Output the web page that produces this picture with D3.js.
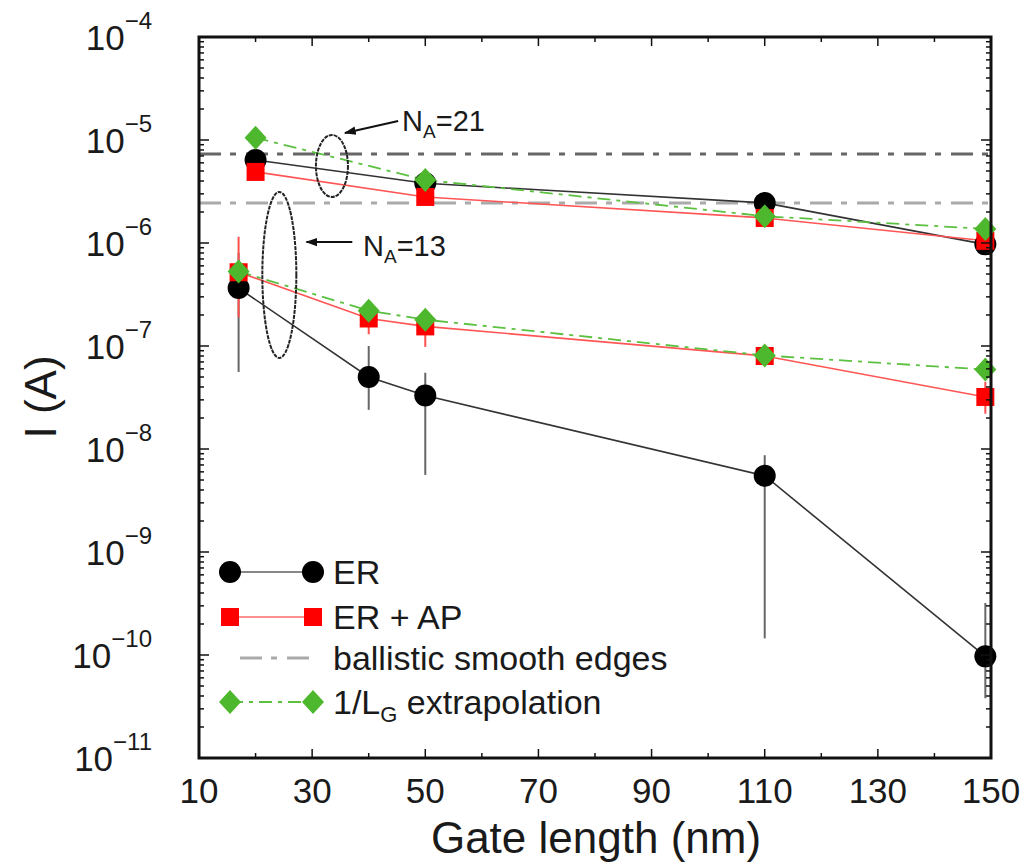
<!DOCTYPE html>
<html>
<head>
<meta charset="utf-8">
<script src="https://cdn.jsdelivr.net/npm/d3@7"></script>
<style>
  body { margin: 0; background: #fff; }
  text { font-family: "Liberation Sans", Arial, sans-serif; fill: #1a1a1a; }
</style>
</head>
<body>
<svg id="chart" width="1027" height="865"></svg>
<script>
// gate lengths (nm) for the two dopant groups
const lgNA21 = [20, 50, 110, 149];
const lgNA13 = [17, 40, 50, 110, 149];

// current (A), N_A = 21
const erNA21 = [6.4e-6, 3.8e-6, 2.45e-6, 0.97e-6];
const erapNA21 = [4.9e-6, 2.8e-6, 1.75e-6, 1.05e-6];
const extrapNA21 = [1.05e-5, 4.1e-6, 1.82e-6, 1.37e-6];

// current (A), N_A = 13
const erNA13 = [3.65e-7, 5.0e-8, 3.3e-8, 5.5e-9, 9.7e-11];
const erapNA13 = [5.2e-7, 1.85e-7, 1.55e-7, 8.0e-8, 3.2e-8];
const extrapNA13 = [5.3e-7, 2.2e-7, 1.8e-7, 8.1e-8, 5.9e-8];

// error bars [low, high]
const erNA13Err = [[5.6e-8, 8e-7], [2.4e-8, 1.0e-7], [5.6e-9, 5.5e-8], [1.45e-10, 8.7e-9], [3.8e-11, 3.2e-10]];
const erapNA13Err = [[1.9e-7, 1.15e-6], [1.3e-7, 2.5e-7], [9.8e-8, 2.2e-7], [7e-8, 9e-8], [2.2e-8, 4.5e-8]];
const erapNA21Err = [null, null, [1.55e-6, 2.0e-6], null];

// ballistic current, smooth edges
const ballistic = [7.3e-6, 2.45e-6];

const xTicks = [10, 30, 50, 70, 90, 110, 130, 150];
const yExponents = [-4, -5, -6, -7, -8, -9, -10, -11];

const legendItems = ["ER", "ER + AP", "ballistic smooth edges", "1/L"];

const svg = d3.select("#chart");
const plotL = 199, plotR = 991, plotT = 37, plotB = 758;

const x = d3.scaleLinear().domain([10, 150]).range([plotL, plotR]);
const y = d3.scaleLog().domain([1e-11, 1e-4]).range([plotB, plotT]);

const RED = "#ff0000", REDLINE = "#ff5555", GREEN = "#4db82e", GREENLINE = "#5cc040";

// arrow head
svg.append("defs").append("marker")
  .attr("id", "arrow")
  .attr("viewBox", "0 0 10 10")
  .attr("refX", 9).attr("refY", 5)
  .attr("markerWidth", 6).attr("markerHeight", 6)
  .attr("markerUnits", "strokeWidth")
  .attr("orient", "auto")
  .append("path").attr("d", "M0,1.5 L10,5 L0,8.5 Z").attr("fill", "#111");

// ballistic lines
svg.selectAll(".ballistic")
  .data(ballistic)
  .enter().append("line")
  .attr("x1", plotL).attr("x2", plotR)
  .attr("y1", d => y(d)).attr("y2", d => y(d))
  .attr("stroke", (d, i) => i === 0 ? "#666" : "#aaa")
  .attr("stroke-width", 3)
  .attr("stroke-dasharray", "22,9,6,10");

// error bars
function errorBars(xs, errs, color) {
  svg.append("g").selectAll("line")
    .data(errs.map((e, i) => ({ x: xs[i], e })).filter(d => d.e))
    .enter().append("line")
    .attr("x1", d => x(d.x)).attr("x2", d => x(d.x))
    .attr("y1", d => y(d.e[0])).attr("y2", d => y(d.e[1]))
    .attr("stroke", color).attr("stroke-width", 2);
}
errorBars(lgNA13, erNA13Err, "#666");
errorBars(lgNA13, erapNA13Err, "#ff5050");
errorBars(lgNA21, erapNA21Err, "#ff5050");

// series lines
const line = d3.line().x(d => x(d[0])).y(d => y(d[1]));
function drawLine(xs, vals, color, width, dash) {
  svg.append("path")
    .attr("d", line(xs.map((v, i) => [v, vals[i]])))
    .attr("fill", "none")
    .attr("stroke", color)
    .attr("stroke-width", width)
    .attr("stroke-dasharray", dash || null);
}
drawLine(lgNA21, erNA21, "#333", 1.6);
drawLine(lgNA13, erNA13, "#333", 1.6);
drawLine(lgNA21, erapNA21, REDLINE, 1.6);
drawLine(lgNA13, erapNA13, REDLINE, 1.6);
drawLine(lgNA21, extrapNA21, GREENLINE, 1.8, "13,6,4,6");
drawLine(lgNA13, extrapNA13, GREENLINE, 1.8, "13,6,4,6");

// markers
const circle = (g, cx, cy) => g.append("circle").attr("cx", cx).attr("cy", cy).attr("r", 11).attr("fill", "#000");
const square = (g, cx, cy) => g.append("rect").attr("x", cx - 9).attr("y", cy - 9).attr("width", 18).attr("height", 18).attr("fill", RED);
const diamond = (g, cx, cy) => g.append("path").attr("d", `M${cx},${cy - 12}L${cx + 11},${cy}L${cx},${cy + 12}L${cx - 11},${cy}Z`).attr("fill", GREEN);

function drawMarkers(xs, vals, fn) {
  const g = svg.append("g");
  xs.forEach((v, i) => fn(g, x(v), y(vals[i])));
}
drawMarkers(lgNA21, erNA21, circle);
drawMarkers(lgNA13, erNA13, circle);
drawMarkers(lgNA21, erapNA21, square);
drawMarkers(lgNA13, erapNA13, square);
drawMarkers(lgNA21, extrapNA21, diamond);
drawMarkers(lgNA13, extrapNA13, diamond);

// dashed ellipses grouping the two N_A sets
const groups = [
  { lg: 33.5, i: 5.6e-6, rx: 16, ry: 31 },
  { lg: 24.2, i: 4.9e-7, rx: 17, ry: 83 }
];
svg.selectAll(".ell")
  .data(groups)
  .enter().append("ellipse")
  .attr("cx", d => x(d.lg)).attr("cy", d => y(d.i))
  .attr("rx", d => d.rx).attr("ry", d => d.ry)
  .attr("fill", "none").attr("stroke", "#222")
  .attr("stroke-width", 2).attr("stroke-dasharray", "4,1");

// N_A labels with arrows
const notes = [
  { label: "21", from: [45.2, 1.53e-5], to: [35.8, 1.17e-5], tx: 45.9, ty: 1.22e-5 },
  { label: "13", from: [37.1, 1.02e-6], to: [29.0, 1.02e-6], tx: 39.0, ty: 7.5e-7 }
];
notes.forEach(n => {
  svg.append("line")
    .attr("x1", x(n.from[0])).attr("y1", y(n.from[1]))
    .attr("x2", x(n.to[0])).attr("y2", y(n.to[1]))
    .attr("stroke", "#111").attr("stroke-width", 2)
    .attr("marker-end", "url(#arrow)");
  const t = svg.append("text").attr("x", x(n.tx)).attr("y", y(n.ty)).attr("font-size", 29);
  t.append("tspan").text("N");
  t.append("tspan").attr("font-size", 19).attr("dy", 7).text("A");
  t.append("tspan").attr("dy", -7).text("=" + n.label);
});

// frame
svg.append("rect")
  .attr("x", plotL).attr("y", plotT)
  .attr("width", plotR - plotL).attr("height", plotB - plotT)
  .attr("fill", "none").attr("stroke", "#111").attr("stroke-width", 3);

// x ticks, bottom and top, pointing inward
const axes = svg.append("g").attr("stroke", "#111").attr("stroke-width", 1.5);
d3.range(10, 151, 10).forEach(v => {
  const len = (v - 10) % 20 === 0 ? 9 : 5;
  axes.append("line").attr("x1", x(v)).attr("x2", x(v)).attr("y1", plotB).attr("y2", plotB - len);
  axes.append("line").attr("x1", x(v)).attr("x2", x(v)).attr("y1", plotT).attr("y2", plotT + len);
});

// y ticks, left and right, log minors
for (let e = -11; e <= -4; e++) {
  for (let m = 1; m <= 9; m++) {
    const v = m * Math.pow(10, e);
    if (v > 1e-4 * 1.0001) break;
    const len = m === 1 ? 10 : 5;
    const yy = y(v);
    axes.append("line").attr("x1", plotL).attr("x2", plotL + len).attr("y1", yy).attr("y2", yy);
    axes.append("line").attr("x1", plotR).attr("x2", plotR - len).attr("y1", yy).attr("y2", yy);
  }
}

// tick labels
svg.selectAll(".xl")
  .data(xTicks)
  .enter().append("text")
  .attr("x", d => x(d)).attr("y", 803)
  .attr("text-anchor", "middle").attr("font-size", 35)
  .text(d => d);

yExponents.forEach(e => {
  const t = svg.append("text")
    .attr("x", 152).attr("y", y(Math.pow(10, e)) + 13)
    .attr("text-anchor", "end").attr("font-size", 35);
  t.append("tspan").text("10");
  t.append("tspan").attr("font-size", 24).attr("dy", -21).text("\u2212" + Math.abs(e));
});

// axis titles
svg.append("text")
  .attr("x", 596).attr("y", 853)
  .attr("text-anchor", "middle").attr("font-size", 44)
  .text("Gate length (nm)");
svg.append("text")
  .attr("transform", "translate(56,397) rotate(-90)")
  .attr("text-anchor", "middle").attr("font-size", 44)
  .text("I (A)");

// legend
const legendY = [572, 617, 658, 702];
const lx1 = 230, lx2 = 313;
const lg = svg.append("g");
lg.append("line").attr("x1", lx1).attr("x2", lx2).attr("y1", legendY[0]).attr("y2", legendY[0]).attr("stroke", "#888").attr("stroke-width", 2);
circle(lg, lx1, legendY[0]); circle(lg, lx2, legendY[0]);
lg.append("line").attr("x1", lx1).attr("x2", lx2).attr("y1", legendY[1]).attr("y2", legendY[1]).attr("stroke", "#ff9090").attr("stroke-width", 2);
square(lg, lx1, legendY[1]); square(lg, lx2, legendY[1]);
lg.append("line").attr("x1", 230).attr("x2", lx2).attr("y1", legendY[2]).attr("y2", legendY[2])
  .attr("stroke", "#aaa").attr("stroke-width", 3).attr("stroke-dasharray", "22,9,6,10").attr("stroke-dashoffset", -10);
lg.append("line").attr("x1", lx1).attr("x2", lx2).attr("y1", legendY[3]).attr("y2", legendY[3])
  .attr("stroke", GREENLINE).attr("stroke-width", 2).attr("stroke-dasharray", "13,6,4,6");
diamond(lg, lx1, legendY[3]); diamond(lg, lx2, legendY[3]);

legendItems.forEach((s, i) => {
  const t = lg.append("text").attr("x", 333).attr("y", legendY[i] + 12).attr("font-size", 34).text(s);
  if (i === 3) {
    t.append("tspan").attr("font-size", 22).attr("dy", 8).text("G");
    t.append("tspan").attr("dy", -8).text(" extrapolation");
  }
});
</script>
</body>
</html>
